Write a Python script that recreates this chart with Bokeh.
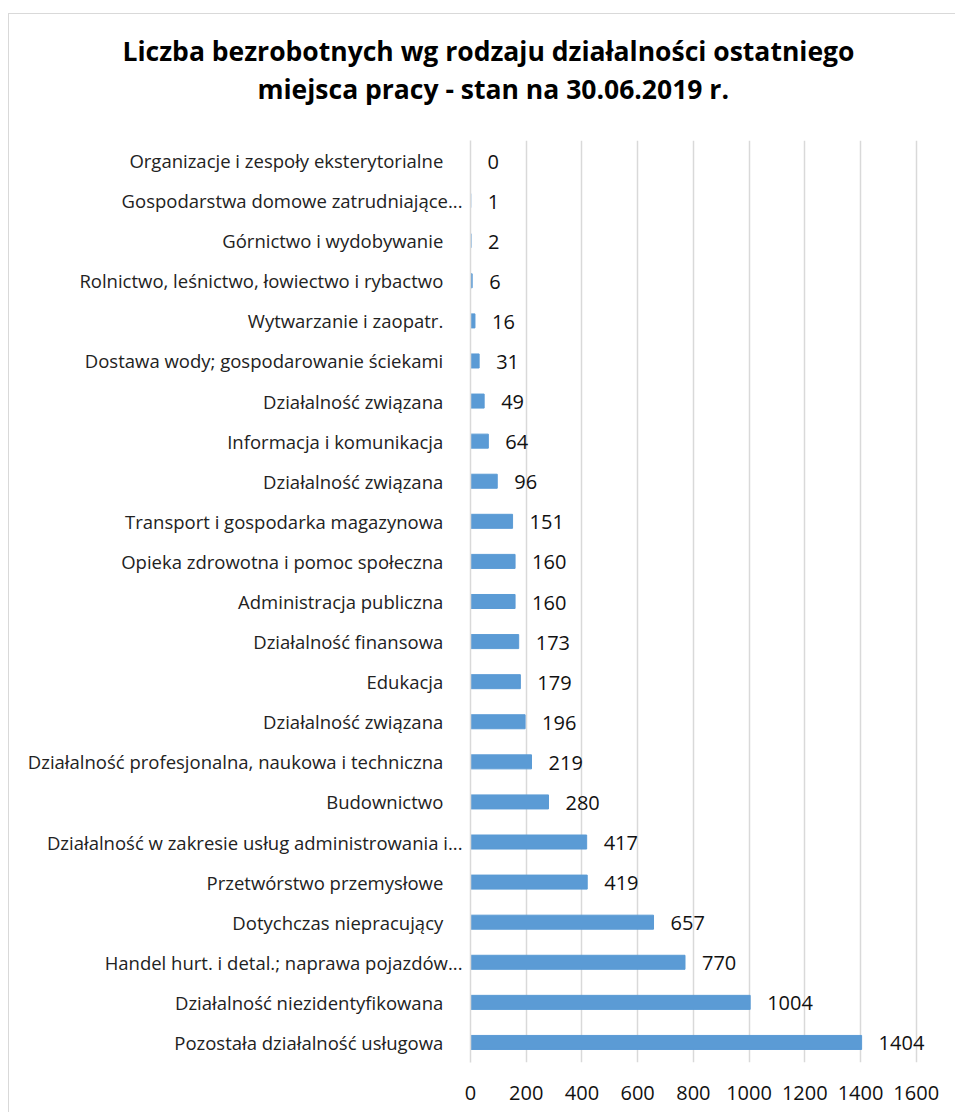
from bokeh.plotting import figure
from bokeh.models import Range1d, FixedTicker, ColumnDataSource, Title
from bokeh.layouts import column
from bokeh.core.properties import value
from bokeh.embed import file_html
from bokeh.resources import INLINE

title_lines = ["Liczba bezrobotnych wg rodzaju działalności ostatniego",
               "miejsca pracy - stan na 30.06.2019 r."]

categories = [
    "Organizacje i zespoły eksterytorialne",
    "Gospodarstwa domowe zatrudniające...",
    "Górnictwo i wydobywanie",
    "Rolnictwo, leśnictwo, łowiectwo i rybactwo",
    "Wytwarzanie i zaopatr.",
    "Dostawa wody; gospodarowanie ściekami",
    "Działalność związana",
    "Informacja i komunikacja",
    "Działalność związana",
    "Transport i gospodarka magazynowa",
    "Opieka zdrowotna i pomoc społeczna",
    "Administracja publiczna",
    "Działalność finansowa",
    "Edukacja",
    "Działalność związana",
    "Działalność profesjonalna, naukowa i techniczna",
    "Budownictwo",
    "Działalność w zakresie usług administrowania i...",
    "Przetwórstwo przemysłowe",
    "Dotychczas niepracujący",
    "Handel hurt. i detal.; naprawa pojazdów...",
    "Działalność niezidentyfikowana",
    "Pozostała działalność usługowa",
]
values = [0, 1, 2, 6, 16, 31, 49, 64, 96, 151, 160, 160, 173, 179, 196, 219,
          280, 417, 419, 657, 770, 1004, 1404]
x_ticks = [0, 200, 400, 600, 800, 1000, 1200, 1400, 1600]

n = len(categories)
ypos = list(range(n))
labels_text = [str(v) for v in values]

# Non-truncated labels carry trailing spaces (as in the source spreadsheet)
overrides = {}
for i, c in enumerate(categories):
    overrides[i] = c if c.endswith("...") else c + "\u00a0\u00a0\u00a0\u00a0"

src = ColumnDataSource(dict(y=ypos, v=values, t=labels_text))

BL, FW, BR = 461, 468, 17

# ---- title strip (frames aligned with the chart below) ----
tfig = figure(output_backend="svg", toolbar_location=None,
              frame_width=FW, frame_height=34,
              min_border_left=BL, min_border_right=BR, min_border_top=92, min_border_bottom=0,
              x_axis_type=None, y_axis_type=None, title=None)
tfig.outline_line_color = None
tfig.grid.visible = False
tfig.border_fill_color = "white"
tfig.background_fill_color = "white"
title_offsets = [-348, -213]
title_line_heights = [1.2, 1.0]
for line, off, lh in reversed(list(zip(title_lines, title_offsets, title_line_heights))):
    tfig.add_layout(Title(text=line, align="left", offset=off, standoff=0,
                          text_font="Open Sans", text_font_size="26.5px",
                          text_font_style="bold", text_color="#000000",
                          text_line_height=lh), "above")

# ---- chart ----
p = figure(
    output_backend="svg", toolbar_location=None,
    frame_width=FW, frame_height=922,
    min_border_left=BL, min_border_right=BR, min_border_top=0, min_border_bottom=50,
    x_range=Range1d(0, 1680), y_range=Range1d(n - 0.5, -0.5),
)

p.hbar(y="y", right="v", left=0, height=0.35, color="#5b9bd5", source=src)
p.text(x="v", y="y", text="t", source=src, x_offset=17, y_offset=1,
       text_align="left", text_baseline="middle",
       text_font=value("Open Sans"), text_font_size="20px", text_color="#111111")

p.outline_line_color = None
p.background_fill_color = "white"
p.border_fill_color = "white"

p.xaxis.ticker = FixedTicker(ticks=x_ticks)
p.xaxis.axis_line_color = None
p.xaxis.major_tick_line_color = None
p.xaxis.minor_tick_line_color = None
p.xaxis.major_label_text_font = "Open Sans"
p.xaxis.major_label_text_font_size = "20px"
p.xaxis.major_label_text_color = "#111111"
p.xaxis.major_label_standoff = 17

p.yaxis.ticker = FixedTicker(ticks=ypos)
p.yaxis.major_label_overrides = overrides
p.yaxis.axis_line_color = "#d9d9d9"
p.yaxis.axis_line_width = 1.5
p.yaxis.major_tick_line_color = None
p.yaxis.minor_tick_line_color = None
p.yaxis.major_label_text_font = "Open Sans"
p.yaxis.major_label_text_font_size = "18.5px"
p.yaxis.major_label_text_color = "#222222"
p.yaxis.major_label_standoff = 2

p.xgrid.grid_line_color = "#d9d9d9"
p.xgrid.grid_line_width = 1.5
p.ygrid.grid_line_color = None

layout = column(tfig, p, spacing=0)
layout.styles = {"border-left": "1px solid #d9d9d9", "border-top": "1px solid #d9d9d9",
                 "margin-left": "8px", "margin-top": "13px", "background": "white"}

open("out.html", "w").write(file_html(layout, INLINE))
